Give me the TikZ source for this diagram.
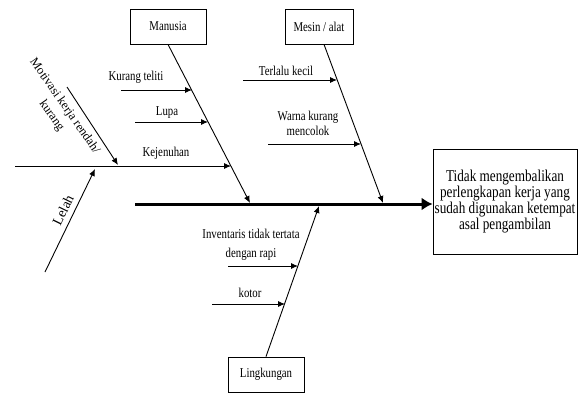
\documentclass[tikz,border=0pt]{standalone}
\usepackage{fontspec}
\setmainfont{Liberation Serif}[FakeStretch=0.8]
\newfontfamily\rotfont{Liberation Serif}
\usetikzlibrary{positioning}
\usetikzlibrary{arrows.meta}

\tikzset{
 boxnode/.style={draw,line width=0.8pt,minimum width=76pt,minimum height=35pt,inner sep=1pt,font=\fontsize{13.5}{15}\selectfont},
 lbl/.style={inner sep=0pt,align=center,font=\fontsize{13.5}{15}\selectfont},
 rotlbl/.style={inner sep=0pt,align=center,font=\rotfont\fontsize{12.5}{16}\selectfont},
 bone/.style={line width=0.9pt,-{Latex[length=7pt,width=6pt]}},
 spine/.style={line width=3pt,-{Latex[length=11pt,width=13pt]}}
}

\begin{document}
\begin{tikzpicture}[x=1pt,y=-1pt]
 \useasboundingbox (0,0) rectangle (578,394);
 \node[boxnode] (manusia) at (168,26.5) {Manusia};
 \node[boxnode,minimum width=68pt] (mesin) at (319,26.5) {Mesin / alat};
 \node[boxnode] (lingkungan) at (266,374.5) {Lingkungan};
 \node[draw,line width=0.8pt,minimum width=144pt,minimum height=105pt,inner sep=1pt,align=center,font=\fontsize{16.5}{14.5}\selectfont] (akibat) at (505,201.5) {Tidak mengembalikan\\perlengkapan kerja yang\\sudah digunakan ketempat\\asal pengambilan};
 \coordinate (s0) at (135,204);
 \draw[spine] (s0) -- (akibat.west |- s0);
 \coordinate (m1) at (250,203);
 \coordinate (a1) at (383,203);
 \coordinate (l1) at (319,206);
 \draw[bone] (manusia.south) -- (m1);
 \draw[bone] ([xshift=5pt]mesin.south) -- (a1);
 \draw[bone] (lingkungan.north) -- (l1);
 \coordinate (kt0) at (121,90);  \coordinate (kt1) at (192,90);
 \coordinate (lp0) at (135,122); \coordinate (lp1) at (208,122);
 \coordinate (kj0) at (15,166);  \coordinate (kj1) at (231,166);
 \coordinate (mk0) at (67,87);   \coordinate (mk1) at (118,165);
 \coordinate (ll0) at (45,272);  \coordinate (ll1) at (95,169);
 \coordinate (tk0) at (243,80);  \coordinate (tk1) at (337,80);
 \coordinate (wk0) at (268,144); \coordinate (wk1) at (361,144);
 \coordinate (iv0) at (228,266); \coordinate (iv1) at (298,266);
 \coordinate (kt2) at (212,304); \coordinate (kt3) at (285,304);
 \draw[bone] (kt0) -- (kt1);
 \draw[bone] (lp0) -- (lp1);
 \draw[bone] (kj0) -- (kj1);
 \draw[bone] (mk0) -- (mk1);
 \draw[bone] (ll0) -- (ll1);
 \draw[bone] (tk0) -- (tk1);
 \draw[bone] (wk0) -- (wk1);
 \draw[bone] (iv0) -- (iv1);
 \draw[bone] (kt2) -- (kt3);
 \node[lbl] (kurangteliti) at (136,77) {Kurang teliti};
 \node[lbl] (lupa) at (167,113) {Lupa};
 \node[lbl] (kejenuhan) at (166,153) {Kejenuhan};
 \node[rotlbl,rotate=-55] (motivasi) at (58,111) {Motivasi kerja rendah/\\kurang};
 \node[rotlbl,font=\rotfont\fontsize{14}{16}\selectfont,rotate=64] (lelah) at (63,210) {Lelah};
 \node[lbl] (terlalukecil) at (286,71) {Terlalu kecil};
 \node[lbl] (warna) at (308,123) {Warna kurang\\mencolok};
 \node[lbl,font=\fontsize{13.5}{19}\selectfont] (inventaris) at (251,244.5) {Inventaris tidak tertata\\dengan rapi};
 \node[lbl] (kotor) at (250,293) {kotor};
\end{tikzpicture}
\end{document}
